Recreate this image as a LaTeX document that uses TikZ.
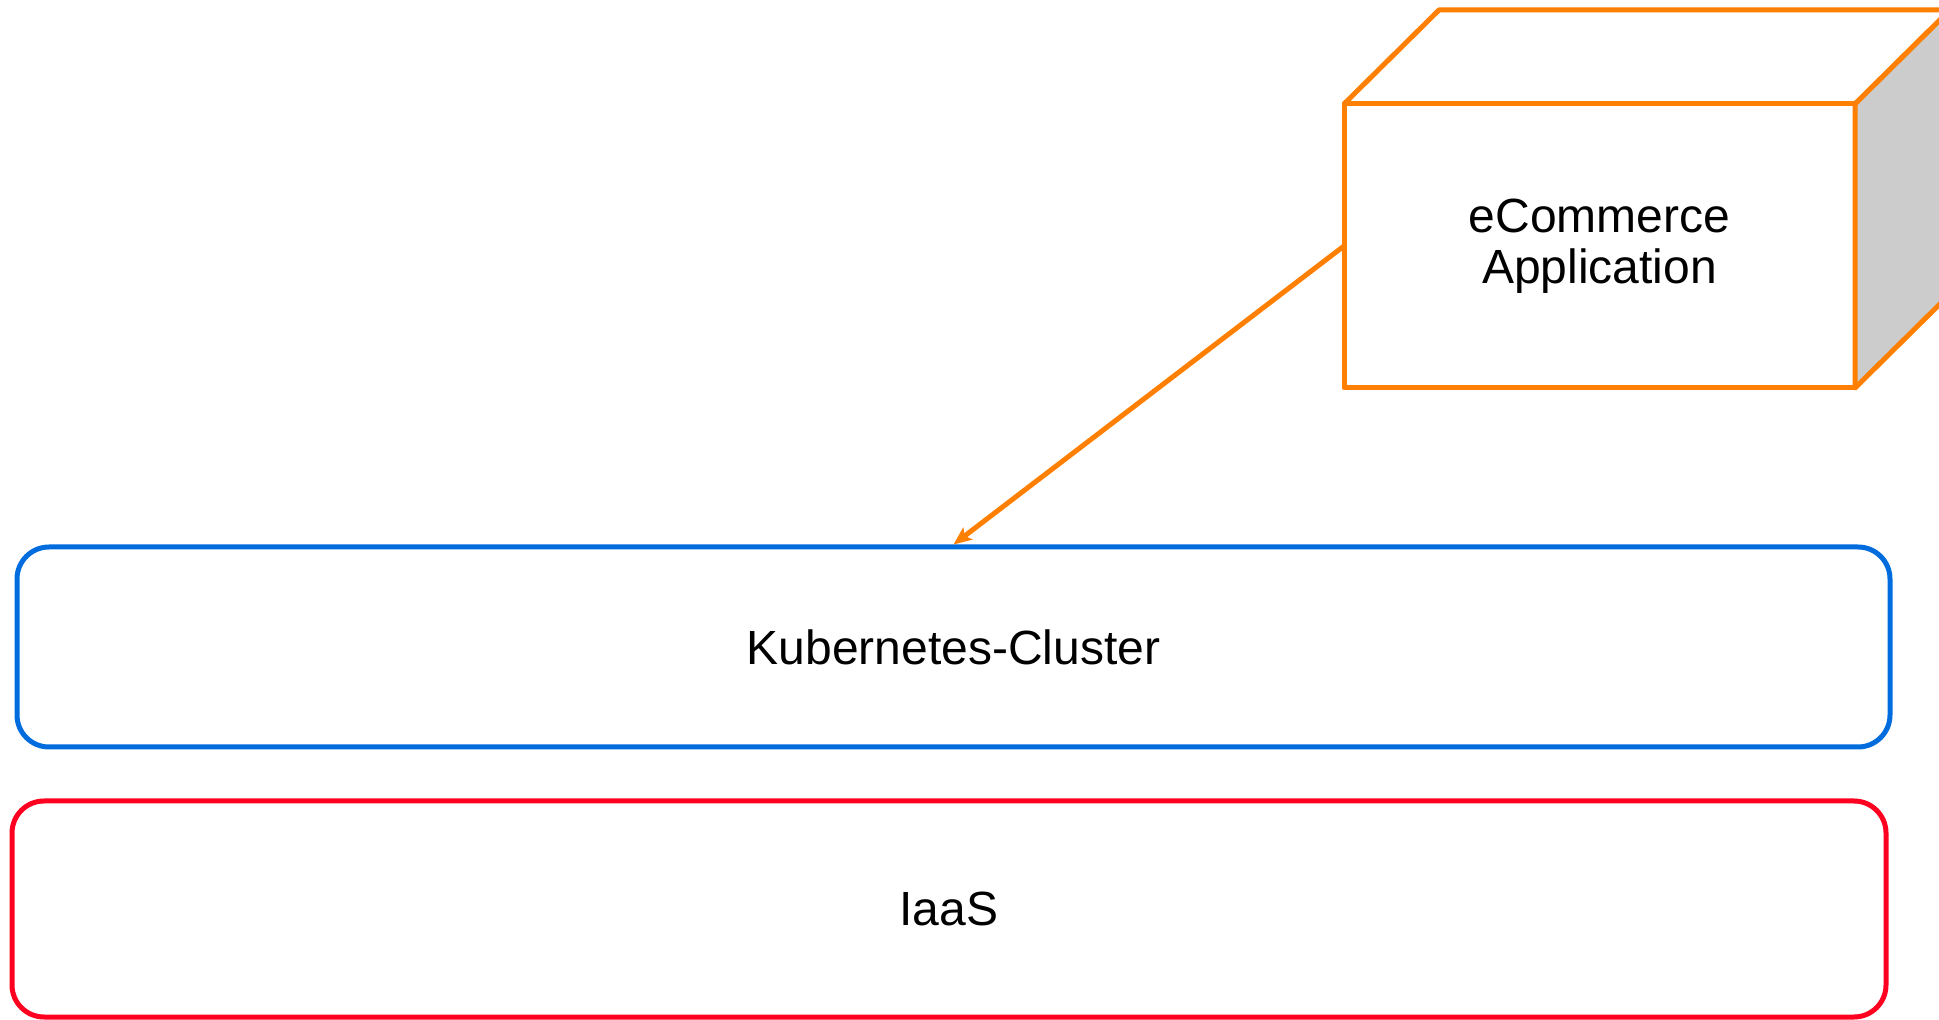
\documentclass[tikz,border=0pt]{standalone}
\usepackage{fontspec}
\setmainfont{Liberation Sans}
\usetikzlibrary{arrows.meta}

\definecolor{apporange}{RGB}{255,128,0}
\definecolor{k8sblue}{RGB}{0,108,222}
\definecolor{iaasred}{RGB}{255,0,32}
\definecolor{sidegray}{RGB}{204,204,204}

\tikzset{
    layer/.style={rectangle, rounded corners=16pt, line width=2.5pt, draw, align=center},
    face/.style={line width=2.5pt, draw=apporange, line join=round},
}

\begin{document}
\begin{tikzpicture}[x=0.5pt, y=-0.5pt, font=\fontsize{24}{25.5}\selectfont]
                \useasboundingbox (0,0) rectangle (1939,1020);
                \clip (0,0) rectangle (1939,1020);

                \node[layer, draw=k8sblue, minimum width=936.5pt, minimum height=100pt] (K) at (953.5,647) {Kubernetes-Cluster};
                \node[layer, draw=iaasred, minimum width=937pt, minimum height=108pt] (I) at (949,909) {IaaS};

                % cube for the application
                \node[face, rectangle, outer sep=0pt, align=center, minimum width=255.5pt, minimum height=142pt] (app) at (1599.5,246) {eCommerce\\Application};
                \draw[face] (app.north west) -- ++(95,-94) -- ++(511,0) -- (app.north east);
                \draw[face, fill=sidegray] (app.north east) -- ++(95,-94) -- ++(0,284) -- (app.south east) -- cycle;

                \draw[face, -{Stealth[length=9pt, width=7.5pt, inset=2pt]}] (app.west) -- (K.north);
            \end{tikzpicture}
\end{document}
